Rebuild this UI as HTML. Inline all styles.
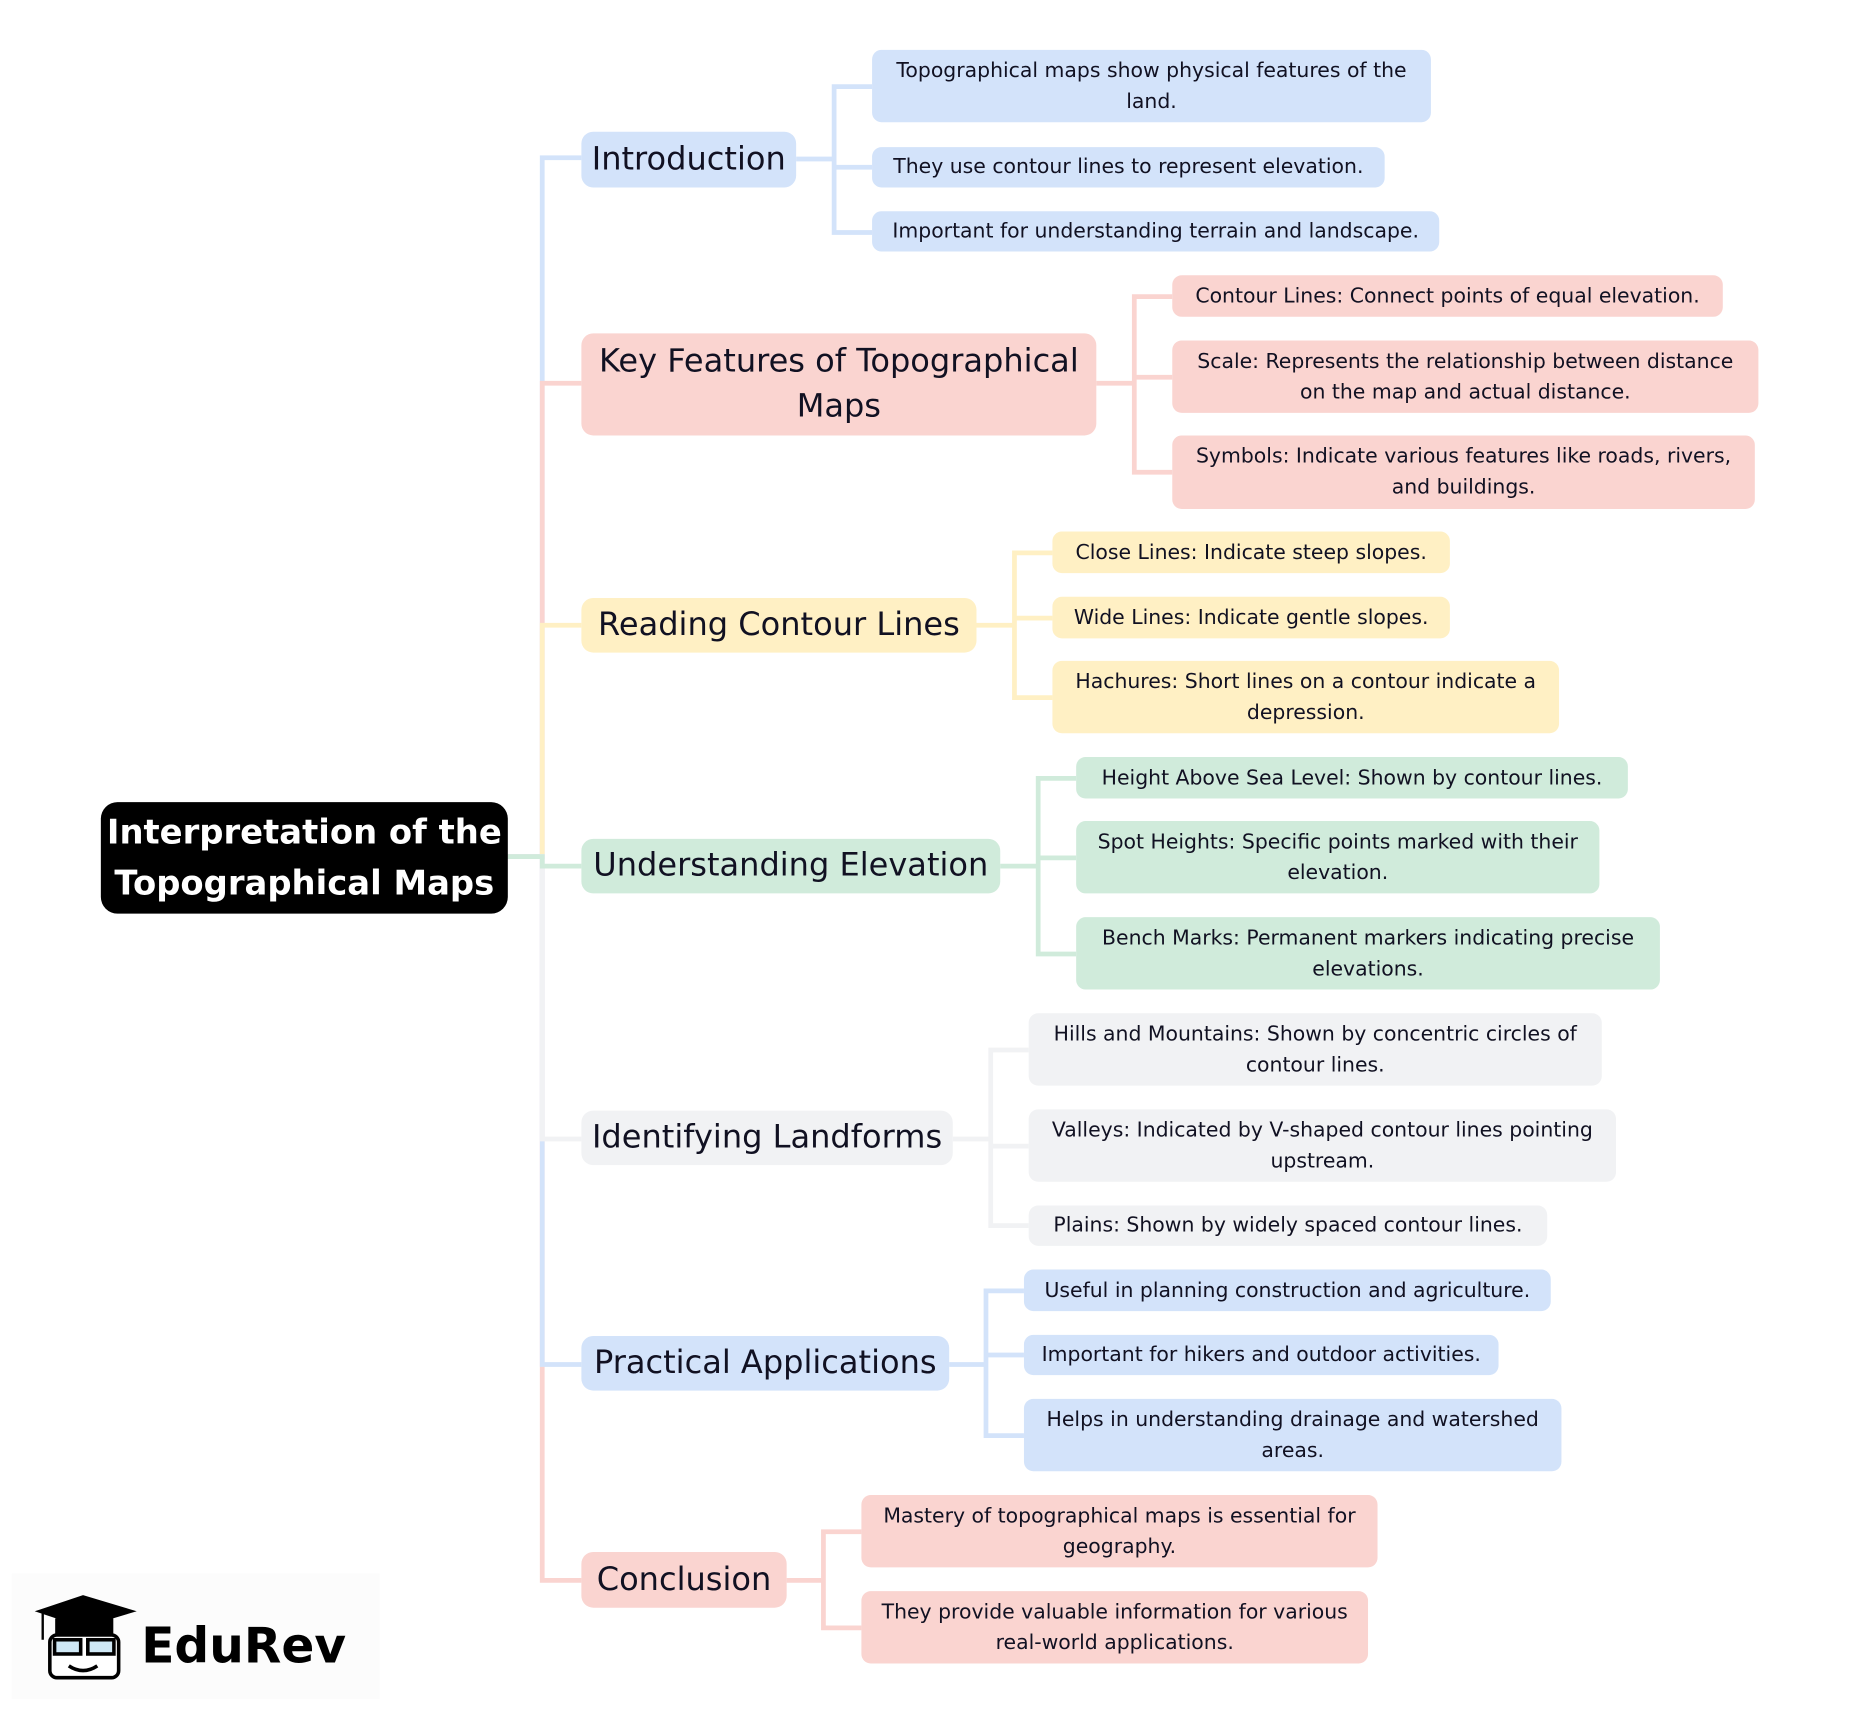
<!DOCTYPE html>
<html><head><meta charset="utf-8"><style>
html,body{margin:0;padding:0;background:#fff;}
body{width:1857px;height:1712px;overflow:hidden;}
#c{position:absolute;left:0;top:0;width:1570px;height:1448px;transform:scale(1.1865);transform-origin:0 0;font-family:"DejaVu Sans","Liberation Sans",sans-serif;}
.n{position:absolute;display:flex;align-items:center;justify-content:center;text-align:center;box-sizing:border-box;border-radius:10px;color:#111122;}
.m{font-size:27px;line-height:38px;padding:0 4px;white-space:nowrap;}
.m.w{white-space:normal;}
.l{font-size:17.2px;line-height:26px;padding:0 8px;border-radius:8px;}
.b{background:#d3e3fa}.r{background:#fad4d0}.y{background:#fff0c4}.g{background:#d0ebdb}.s{background:#f1f2f4}
svg{position:absolute;left:0;top:0;}
</style></head><body><div id="c">
<svg width="1570" height="1448" fill="none" stroke-width="4">
<path d="M428 722H457V133H490" stroke="#d3e3fa"/>
<path d="M428 722H457V323H490" stroke="#fad4d0"/>
<path d="M428 722H457V527H490" stroke="#fff0c4"/>
<path d="M428 722H457V1332H490" stroke="#fad4d0"/>
<path d="M428 722H457V1150H490" stroke="#d3e3fa"/>
<path d="M428 722H457V960H490" stroke="#f1f2f4"/>
<path d="M428 722H457V730H490" stroke="#d0ebdb"/>
<g stroke="#d3e3fa"><path d="M671 134H703M735 73H703V196H735M703 141H735"/></g>
<g stroke="#fad4d0"><path d="M924 323H956M988 250H956V398H988M956 318H988"/></g>
<g stroke="#fff0c4"><path d="M823 527H855M887 466H855V588H887M855 521H887"/></g>
<g stroke="#d0ebdb"><path d="M843 730H875M907 656H875V804H907M875 723H907"/></g>
<g stroke="#f1f2f4"><path d="M803 960H835M867 885H835V1033H867M835 966H867"/></g>
<g stroke="#d3e3fa"><path d="M800 1150H831M863 1088H831V1210H863M831 1142H863"/></g>
<g stroke="#fad4d0"><path d="M663 1332H694M726 1291H694V1372H726"/></g>
</svg>
<div class="n" style="left:85px;top:676px;width:343px;height:94px;background:#000;color:#fff;font-weight:bold;font-size:28.5px;line-height:43px;border-radius:14px;white-space:nowrap;">Interpretation of the<br>Topographical Maps</div>

<div class="n m b" style="left:490px;top:111px;width:181px;height:47px">Introduction</div>
<div class="n m r w" style="left:490px;top:281px;width:434px;height:86px">Key Features of Topographical Maps</div>
<div class="n m y" style="left:490px;top:504px;width:333px;height:46px">Reading Contour Lines</div>
<div class="n m g" style="left:490px;top:707px;width:353px;height:46px">Understanding Elevation</div>
<div class="n m s" style="left:490px;top:936px;width:313px;height:46px">Identifying Landforms</div>
<div class="n m b" style="left:490px;top:1126px;width:310px;height:46px">Practical Applications</div>
<div class="n m r" style="left:490px;top:1308px;width:173px;height:47px">Conclusion</div>

<div class="n l b" style="left:735px;top:42px;width:471px;height:61px">Topographical maps show physical features of the land.</div>
<div class="n l b" style="left:735px;top:124px;width:432px;height:34px">They use contour lines to represent elevation.</div>
<div class="n l b" style="left:735px;top:178px;width:478px;height:34px">Important for understanding terrain and landscape.</div>

<div class="n l r" style="left:988px;top:232px;width:464px;height:35px">Contour Lines: Connect points of equal elevation.</div>
<div class="n l r" style="left:988px;top:287px;width:494px;height:61px">Scale: Represents the relationship between distance on the map and actual distance.</div>
<div class="n l r" style="left:988px;top:367px;width:491px;height:62px">Symbols: Indicate various features like roads, rivers, and buildings.</div>

<div class="n l y" style="left:887px;top:448px;width:335px;height:35px">Close Lines: Indicate steep slopes.</div>
<div class="n l y" style="left:887px;top:503px;width:335px;height:35px">Wide Lines: Indicate gentle slopes.</div>
<div class="n l y" style="left:887px;top:557px;width:427px;height:61px">Hachures: Short lines on a contour indicate a depression.</div>

<div class="n l g" style="left:907px;top:638px;width:465px;height:35px">Height Above Sea Level: Shown by contour lines.</div>
<div class="n l g" style="left:907px;top:692px;width:441px;height:61px">Spot Heights: Specific points marked with their elevation.</div>
<div class="n l g" style="left:907px;top:773px;width:492px;height:61px">Bench Marks: Permanent markers indicating precise elevations.</div>

<div class="n l s" style="left:867px;top:854px;width:483px;height:61px">Hills and Mountains: Shown by concentric circles of contour lines.</div>
<div class="n l s" style="left:867px;top:935px;width:495px;height:61px">Valleys: Indicated by V-shaped contour lines pointing upstream.</div>
<div class="n l s" style="left:867px;top:1016px;width:437px;height:34px">Plains: Shown by widely spaced contour lines.</div>

<div class="n l b" style="left:863px;top:1070px;width:444px;height:35px">Useful in planning construction and agriculture.</div>
<div class="n l b" style="left:863px;top:1125px;width:400px;height:34px">Important for hikers and outdoor activities.</div>
<div class="n l b" style="left:863px;top:1179px;width:453px;height:61px">Helps in understanding drainage and watershed areas.</div>

<div class="n l r" style="left:726px;top:1260px;width:435px;height:61px">Mastery of topographical maps is essential for geography.</div>
<div class="n l r" style="left:726px;top:1341px;width:427px;height:61px">They provide valuable information for various real-world applications.</div>

<div style="position:absolute;left:10px;top:1326px;width:310px;height:106px;background:#fcfcfc"></div>
<svg width="120" height="100" style="left:28px;top:1340px" stroke="#000" stroke-width="3" fill="none">
<path d="M6 18L42 6L82 18L42 30Z" fill="#000"/>
<path d="M20 24V36H66V24" fill="#000"/>
<path d="M8 18V42" stroke-width="2"/>
<rect x="14" y="38" width="58" height="36" rx="6" fill="#fff"/>
<rect x="18" y="42" width="22" height="12" fill="#cfe8f5"/><rect x="46" y="42" width="22" height="12" fill="#cfe8f5"/>
<path d="M30 64Q42 72 54 64"/>
</svg>
<div style="position:absolute;left:119px;top:1357px;font-size:41px;font-weight:bold;color:#000;line-height:60px;">EduRev</div>
</div></body></html>
